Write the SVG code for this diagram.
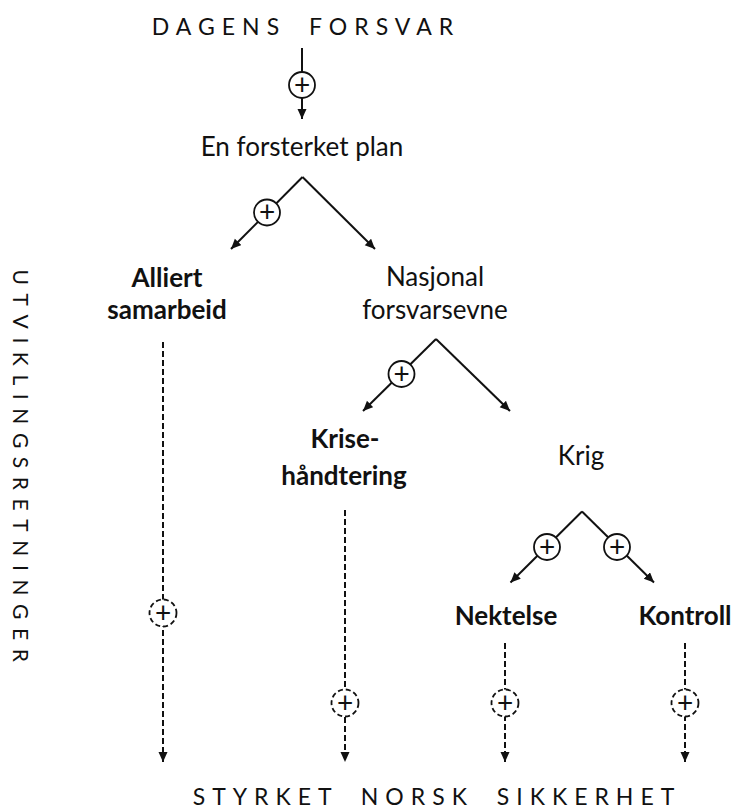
<svg xmlns="http://www.w3.org/2000/svg" width="733" height="811" viewBox="0 0 733 811">
<defs>
<style>
text{font-family:Lato,"Open Sans","Liberation Sans",sans-serif;fill:#111}
.cap{font-size:23px;letter-spacing:7px;word-spacing:10px;text-anchor:middle}
.vcap{font-size:21px;letter-spacing:8.6px;text-anchor:middle}
.n{font-size:26px;text-anchor:middle}
.b{font-size:26px;font-weight:bold;text-anchor:middle}
.pl{font-size:28px;text-anchor:middle}
.s{stroke:#111;stroke-width:2;fill:none}
.d{stroke:#111;stroke-width:2;fill:none;stroke-dasharray:6 3}
.c{stroke:#111;stroke-width:1.8;fill:#fff}
.cd{stroke:#111;stroke-width:1.8;fill:#fff;stroke-dasharray:5 3}
</style>
<marker id="ah" markerUnits="userSpaceOnUse" markerWidth="12" markerHeight="10" refX="10" refY="4.5" orient="auto">
<path d="M0,0 L10,4.5 L0,9 z" fill="#111"/>
</marker>
</defs>
<rect width="733" height="811" fill="#fff"/>

<g id="title-top"><text class="cap" x="306" y="35">DAGENS FORSVAR</text></g>
<g id="title-bottom"><text class="cap" x="437" y="805">STYRKET NORSK SIKKERHET</text></g>
<g id="side-label"><text class="vcap" transform="translate(13,470) rotate(90)">UTVIKLINGSRETNINGER</text></g>

<g id="node-plan"><text class="n" x="302" y="156">En forsterket plan</text></g>
<g id="node-alliert"><text class="b" x="167" y="287">Alliert</text><text class="b" x="167" y="319">samarbeid</text></g>
<g id="node-nasjonal"><text class="n" x="435" y="286">Nasjonal</text><text class="n" x="435" y="319">forsvarsevne</text></g>
<g id="node-krise"><text class="b" x="345" y="448">Krise-</text><text class="b" x="344" y="485">håndtering</text></g>
<g id="node-krig"><text class="n" x="581" y="465">Krig</text></g>
<g id="node-nektelse"><text class="b" x="506" y="625">Nektelse</text></g>
<g id="node-kontroll"><text class="b" x="685" y="625">Kontroll</text></g>

<g id="connectors">
<line class="s" x1="302" y1="48" x2="302" y2="119" marker-end="url(#ah)"/>
<line class="s" x1="302.5" y1="177" x2="231" y2="249" marker-end="url(#ah)"/>
<line class="s" x1="302.5" y1="177" x2="375" y2="249" marker-end="url(#ah)"/>
<line class="s" x1="436" y1="339" x2="363" y2="411" marker-end="url(#ah)"/>
<line class="s" x1="436" y1="339" x2="510" y2="411" marker-end="url(#ah)"/>
<line class="s" x1="582" y1="511.5" x2="510.5" y2="582.5" marker-end="url(#ah)"/>
<line class="s" x1="582" y1="511.5" x2="654" y2="582.5" marker-end="url(#ah)"/>
<line class="d" x1="163" y1="342" x2="163" y2="762" marker-end="url(#ah)"/>
<line class="d" x1="345" y1="510" x2="345" y2="762" marker-end="url(#ah)"/>
<line class="d" x1="505" y1="643" x2="505" y2="762" marker-end="url(#ah)"/>
<line class="d" x1="685" y1="643" x2="685" y2="762" marker-end="url(#ah)"/>

<circle class="c" cx="302" cy="85" r="13"/><text class="pl" x="302" y="94.5">+</text>
<circle class="c" cx="267" cy="212.5" r="13"/><text class="pl" x="267" y="222">+</text>
<circle class="c" cx="401.5" cy="374" r="13"/><text class="pl" x="401.5" y="383.5">+</text>
<circle class="c" cx="547" cy="547" r="13"/><text class="pl" x="547" y="556.5">+</text>
<circle class="c" cx="617" cy="547" r="13"/><text class="pl" x="617" y="556.5">+</text>
<circle class="cd" cx="163" cy="613" r="13.5"/><text class="pl" x="163" y="622.5">+</text>
<circle class="cd" cx="345" cy="703" r="13.5"/><text class="pl" x="345" y="712.5">+</text>
<circle class="cd" cx="505" cy="703" r="13.5"/><text class="pl" x="505" y="712.5">+</text>
<circle class="cd" cx="685" cy="703" r="13.5"/><text class="pl" x="685" y="712.5">+</text>
</g>
</svg>
